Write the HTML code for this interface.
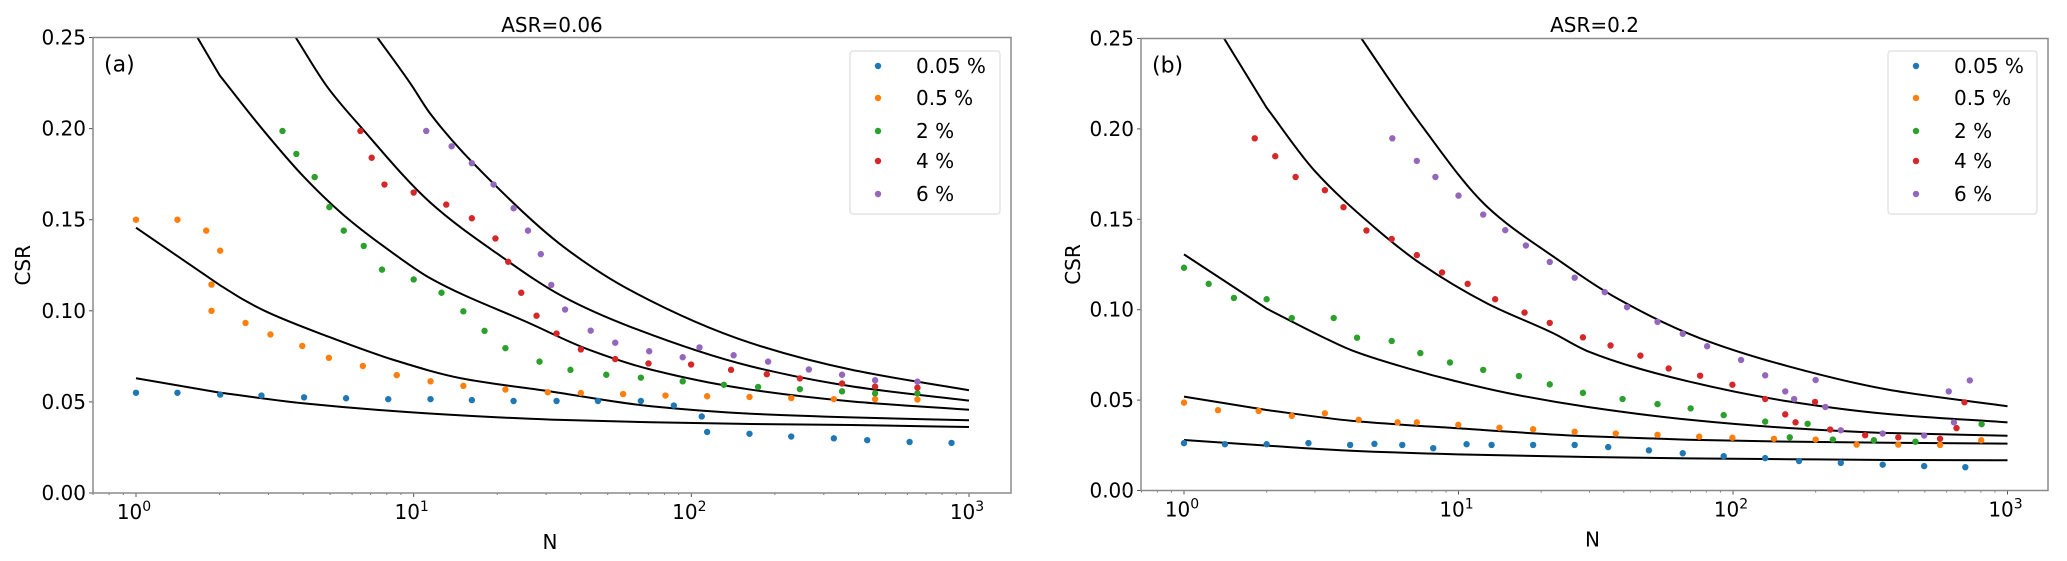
<!DOCTYPE html>
<html><head><meta charset="utf-8"><style>
html,body{margin:0;padding:0;background:#fff;}
svg{display:block;font-family:"DejaVu Sans","Liberation Sans",sans-serif;}
</style></head><body>
<svg id="chart" width="2067" height="561" viewBox="0 0 2067 561" xmlns="http://www.w3.org/2000/svg"></svg>
<script>
// ---------- shared ----------
const seriesLabels = ["0.05 %", "0.5 %", "2 %", "4 %", "6 %"];
const colors = ["#1f77b4", "#ff7f0e", "#2ca02c", "#d62728", "#9467bd"];
const yTicks = [0.00, 0.05, 0.10, 0.15, 0.20, 0.25];
const yTickLabels = ["0.00", "0.05", "0.10", "0.15", "0.20", "0.25"];
const xTickExps = [0, 1, 2, 3];

// ---------- Panel (a) data: ASR=0.06 ----------
const aN0 = [1,1.41,2.01,2.83,4.03,5.71,8.1,11.5,16.2,22.9,32.7,46.1,65.8,86.5,109,114,162,229,326,430,611,865];
const aV0 = [0.055,0.055,0.054,0.0535,0.0525,0.052,0.0515,0.0515,0.051,0.0505,0.0505,0.0505,0.0505,0.048,0.042,0.0335,0.0325,0.031,0.030,0.029,0.028,0.0275];
const aN1 = [1,1.41,1.79,2.01,1.87,1.87,2.48,3.05,3.97,4.95,6.56,8.69,11.5,15.1,21.4,30.4,40.0,56.8,80.7,114,162,229,326,459,652];
const aV1 = [0.150,0.150,0.144,0.133,0.1144,0.100,0.0933,0.087,0.0807,0.0742,0.0697,0.0647,0.0613,0.0588,0.0568,0.0553,0.0549,0.0543,0.0535,0.0531,0.0527,0.0521,0.0515,0.0515,0.0513];
const aN2 = [3.37,3.78,4.40,4.97,5.60,6.61,7.69,10.0,12.6,15.1,18.0,21.4,28.4,36.7,49.4,65.8,93.1,131,174,246,349,459,652];
const aV2 = [0.1987,0.1861,0.1734,0.1569,0.1440,0.1356,0.1226,0.1172,0.1099,0.0997,0.0890,0.0795,0.0721,0.0676,0.0649,0.0633,0.0613,0.0594,0.0582,0.0570,0.0558,0.0547,0.0547];
const aN3 = [6.43,7.06,7.85,10.0,13.1,16.2,19.7,21.9,24.4,27.7,32.7,40.0,53.2,70.1,99.8,139,187,246,349,459,652];
const aV3 = [0.1987,0.1840,0.1693,0.1649,0.1583,0.1508,0.1397,0.1269,0.1099,0.0973,0.0875,0.0788,0.0735,0.0711,0.0705,0.0676,0.0652,0.0629,0.0601,0.0584,0.0578];
const aN4 = [11.1,13.7,16.2,19.4,22.9,25.8,28.7,31.3,35.1,43.4,53.2,70.5,93.1,107,142,189,265,349,459,652];
const aV4 = [0.1987,0.1903,0.1810,0.1693,0.1563,0.1440,0.1311,0.1142,0.1007,0.0891,0.0825,0.0778,0.0745,0.0799,0.0756,0.0721,0.0678,0.0649,0.0619,0.0611];

// fitted curves (a)
const aLN0 = [1,2,4.03,11.2,31.2,71.6,164,376,1000];
const aL0 = [0.0630,0.0551,0.0492,0.0437,0.0403,0.0388,0.0379,0.0373,0.0362];
const aLN1 = [1,2,2.45,2.97,4.89,8.49,14.8,31.2,71.6,164,376,1000];
const aL1 = [0.1456,0.1142,0.1059,0.0993,0.0860,0.0730,0.0630,0.0557,0.0476,0.0435,0.0415,0.0399];
const aLN2 = [1.5,2,2.81,4.03,5.61,8.49,11.5,26.2,43,71.6,164,376,1000];
const aL2 = [0.2617,0.2293,0.2009,0.1734,0.1524,0.1313,0.1178,0.0931,0.0785,0.0677,0.0567,0.0503,0.0457];
const aLN3 = [3.3,3.76,4.89,6.45,11.5,19.9,34.6,60.1,164,376,1000];
const aL3 = [0.2634,0.25,0.2228,0.2009,0.1593,0.1316,0.1077,0.0913,0.0695,0.0586,0.0507];
const aLN4 = [6.5,7.4,9.75,11.5,19.9,34.6,60.1,164,376,1000];
const aL4 = [0.2619,0.25,0.2246,0.2080,0.1681,0.1352,0.1114,0.0823,0.0677,0.0564];

// ---------- Panel (b) data: ASR=0.2 ----------
const bN0 = [1,1.41,2.0,2.84,4.03,4.94,6.24,8.09,10.7,13.2,18.7,26.5,35.1,49.4,65.6,92.5,131,174,247,351,497,702];
const bV0 = [0.0262,0.0256,0.0256,0.0262,0.0252,0.0258,0.0252,0.0234,0.0256,0.0252,0.0252,0.0252,0.024,0.0222,0.0206,0.019,0.0179,0.0163,0.0153,0.0143,0.0135,0.0129];
const bN1 = [1,1.33,1.87,2.47,3.26,4.33,6.0,7.05,9.98,14.1,18.7,26.5,37.4,53.1,75.3,99.5,141,200,282,400,568,802];
const bV1 = [0.0486,0.0444,0.044,0.0413,0.0427,0.0391,0.0377,0.0377,0.0363,0.0347,0.0339,0.0325,0.0315,0.0308,0.0298,0.0292,0.0286,0.0282,0.0254,0.0254,0.0252,0.0278];
const bN2 = [1,1.23,1.52,2.0,2.47,3.51,4.27,5.71,7.26,9.31,12.3,16.6,21.5,28.4,39.6,53.1,70.1,92.5,131,161,187,231,326,462,805];
const bV2 = [0.1232,0.1143,0.1065,0.1058,0.0954,0.0954,0.0845,0.0827,0.076,0.0708,0.0667,0.0633,0.0587,0.054,0.0506,0.0478,0.0454,0.0417,0.0381,0.0294,0.0369,0.0282,0.0278,0.027,0.0367];
const bN3 = [1.81,2.15,2.55,3.26,3.81,4.62,5.71,7.05,8.71,10.8,13.6,17.4,21.5,28.4,35.8,46.0,58.3,75.9,99.5,131,155,169,199,226,303,400,568,652,697];
const bV3 = [0.1948,0.1849,0.1734,0.1661,0.1567,0.1438,0.1391,0.1302,0.1206,0.1143,0.1058,0.0984,0.0927,0.0847,0.0802,0.0746,0.0675,0.0635,0.0585,0.0506,0.0421,0.0377,0.049,0.0337,0.0306,0.0294,0.0286,0.0345,0.0488];
const bN4 = [5.74,7.05,8.24,10,12.3,14.8,17.6,21.5,26.5,34.1,41.1,53.1,65.6,80.5,107,131,155,167,200,217,247,351,497,611,638,729];
const bV4 = [0.1948,0.1823,0.1734,0.1631,0.1526,0.144,0.1355,0.1264,0.1177,0.1097,0.1014,0.0933,0.0867,0.0798,0.0722,0.0637,0.0548,0.0506,0.0611,0.0462,0.0333,0.0315,0.0304,0.0548,0.0377,0.0609];

const bLN0 = [1,2,4.06,9.93,29.6,68.6,159,367,1000];
const bL0 = [0.0279,0.0248,0.0220,0.0200,0.0185,0.0178,0.0173,0.0169,0.0167];
const bLN1 = [1,2,4.06,9.93,29.6,68.6,159,367,1000];
const bL1 = [0.0519,0.0445,0.0386,0.0344,0.0300,0.0281,0.0270,0.0264,0.0259];
const bLN2 = [1,2,3.15,4.06,6.53,9.93,16.4,29.6,68.6,159,367,1000];
const bL2 = [0.1306,0.1006,0.0854,0.0777,0.0676,0.0602,0.0528,0.0462,0.0392,0.0346,0.0318,0.0303];
const bLN3 = [1.25,1.4,2,2.98,4.93,7.24,12.7,22.2,29.6,68.6,159,367,1000];
const bL3 = [0.2626,0.25,0.2117,0.1771,0.1457,0.1257,0.1035,0.0869,0.0770,0.0604,0.0493,0.0423,0.0377];
const bLN4 = [4,4.43,7.24,12.7,22.2,38.7,75.9,159,367,1000];
const bL4 = [0.2599,0.25,0.2031,0.1570,0.1293,0.1054,0.0842,0.0687,0.0558,0.0466];

const NS = "http://www.w3.org/2000/svg";
const svg = document.getElementById('chart');
function mk(tag, attrs, parent) {
  const e = document.createElementNS(NS, tag);
  for (const k in attrs) e.setAttribute(k, attrs[k]);
  (parent || svg).appendChild(e);
  return e;
}

// monotone cubic (Fritsch-Carlson) path through pixel points
function monotonePath(pts, straightUntil) {
  const n = pts.length;
  const dx = [], m = [];
  for (let i = 0; i < n - 1; i++) {
    dx.push(pts[i + 1][0] - pts[i][0]);
    m.push((pts[i + 1][1] - pts[i][1]) / dx[i]);
  }
  const t = new Array(n);
  t[0] = m[0]; t[n - 1] = m[n - 2];
  for (let i = 1; i < n - 1; i++) {
    if (m[i - 1] * m[i] <= 0) t[i] = 0;
    else {
      const w1 = 2 * dx[i] + dx[i - 1], w2 = dx[i] + 2 * dx[i - 1];
      t[i] = (w1 + w2) / (w1 / m[i - 1] + w2 / m[i]);
    }
  }
  if (straightUntil >= 1 && straightUntil < n - 1) t[straightUntil] = m[straightUntil];
  let d = 'M' + pts[0][0] + ',' + pts[0][1];
  for (let i = 0; i < n - 1; i++) {
    const p1 = pts[i], p2 = pts[i + 1];
    if (i < straightUntil) { d += ` L${p2[0]},${p2[1]}`; continue; }
    const h = dx[i] / 3;
    d += ` C${p1[0] + h},${p1[1] + t[i] * h} ${p2[0] - h},${p2[1] - t[i + 1] * h} ${p2[0]},${p2[1]}`;
  }
  return d;
}

function panel(cfg) {
  const g = mk('g', {});
  
  
  const {L, R, T, B, x0px, x3px} = cfg;
  const xs = v => x0px + Math.log10(v) * (x3px - x0px) / 3;
  const ys = v => B - v / 0.25 * (B - T);
  const clipId = 'clip-' + cfg.id;
  const cp = mk('clipPath', {id: clipId}, g);
  mk('rect', {x: L, y: T, width: R - L, height: B - T}, cp);

  const title = mk('text', {x: (L + R) / 2, y: 32, 'font-size': 20, 'text-anchor': 'middle', fill: '#000'}, g);
  title.textContent = cfg.title;
  
  

  yTicks.forEach((t, i) => {
    const y = ys(t);
    mk('line', {x1: L - 4, x2: L, y1: y, y2: y, stroke: '#555', 'stroke-width': 1}, g);
    const tx = mk('text', {x: L - 7, y: y + 7, 'font-size': 20, 'text-anchor': 'end', fill: '#000'}, g);
    tx.textContent = yTickLabels[i];
    
    
  });
  xTickExps.forEach(e => {
    const x = xs(Math.pow(10, e));
    mk('line', {x1: x, x2: x, y1: B, y2: B + 4, stroke: '#555', 'stroke-width': 1}, g);
    const tx = mk('text', {x: x - 2, y: B + 26, 'font-size': 20, 'text-anchor': 'middle', fill: '#000'}, g);
    tx.textContent = '10';
    const sup = mk('tspan', {dy: -8, 'font-size': 14}, tx);
    sup.textContent = String(e);
    
    
    if (e < 3) for (let m = 2; m <= 9; m++) {
      const xm = xs(m * Math.pow(10, e));
      mk('line', {x1: xm, x2: xm, y1: B, y2: B + 2, stroke: '#777', 'stroke-width': 1}, g);
    }
  });
  for (let m = 6; m <= 9; m++) { const xm = xs(m / 10); mk('line', {x1: xm, x2: xm, y1: B, y2: B + 2, stroke: '#777'}, g); }

  const xl = mk('text', {x: (L + R) / 2 - 2, y: B + 56, 'font-size': 20, 'text-anchor': 'middle'}, g);
  xl.textContent = 'N';
  
  
  const yl = mk('text', {x: 0, y: 0, 'font-size': 20, 'text-anchor': 'middle', transform: `translate(${cfg.ylx},${(T + B) / 2}) rotate(-90)`}, g);
  yl.textContent = 'CSR';
  
  

  const pl = mk('text', {x: L + 11, y: T + 34, 'font-size': 22}, g);
  pl.textContent = cfg.tag;
  
  

  const cg = mk('g', {'clip-path': `url(#${clipId})`}, g);
  cfg.lines.forEach((ln, i) => {
    const ns = ln[0];
    const pts = ns.map((n, j) => [xs(n), ys(ln[1][j])]);
    let straightUntil = 0;
    while (straightUntil < ns.length - 1 && ns[straightUntil + 1] <= 2.01) straightUntil++;
    const p = mk('path', {d: monotonePath(pts, straightUntil), fill: 'none', stroke: '#000', 'stroke-width': 2}, cg);
    
    
  });
  cfg.series.forEach((s, i) => {
    const sg = mk('g', {fill: colors[i]}, cg);
    
    
    s[0].forEach((n, j) => {
      const c = mk('circle', {cx: xs(n), cy: ys(s[1][j]), r: 3.2}, sg);
      
      
    });
  });

  mk('rect', {x: L, y: T, width: R - L, height: B - T, fill: 'none', stroke: '#8a8a8a', 'stroke-width': 1.5}, g);

  const lg = mk('g', {}, g);
  
  
  mk('rect', {x: cfg.lgX, y: 51, width: cfg.lgW, height: 163, rx: 3, fill: '#fff', stroke: '#ddd', 'stroke-width': 1.2}, lg);
  const lys = [66, 98, 131, 161, 194];
  seriesLabels.forEach((lab, i) => {
    const e = mk('g', {}, lg);
    
    
    mk('circle', {cx: cfg.lgX + 28, cy: lys[i], r: 3.2, fill: colors[i]}, e);
    const t = mk('text', {x: cfg.lgX + 66, y: lys[i] + 7, 'font-size': 20}, e);
    t.textContent = lab;
  });
}

panel({id: 'a', title: 'ASR=0.06', tag: '(a)', L: 93, R: 1011, T: 37.5, B: 493, x0px: 136, x3px: 969, ylx: 30, lgX: 850, lgW: 150,
  series: [[aN0,aV0],[aN1,aV1],[aN2,aV2],[aN3,aV3],[aN4,aV4]],
  lines: [[aLN0,aL0],[aLN1,aL1],[aLN2,aL2],[aLN3,aL3],[aLN4,aL4]]});
panel({id: 'b', title: 'ASR=0.2', tag: '(b)', L: 1141, R: 2048, T: 38.5, B: 490.5, x0px: 1184, x3px: 2007.5, ylx: 1080, lgX: 1888, lgW: 149,
  series: [[bN0,bV0],[bN1,bV1],[bN2,bV2],[bN3,bV3],[bN4,bV4]],
  lines: [[bLN0,bL0],[bLN1,bL1],[bLN2,bL2],[bLN3,bL3],[bLN4,bL4]]});
</script>
</body></html>
